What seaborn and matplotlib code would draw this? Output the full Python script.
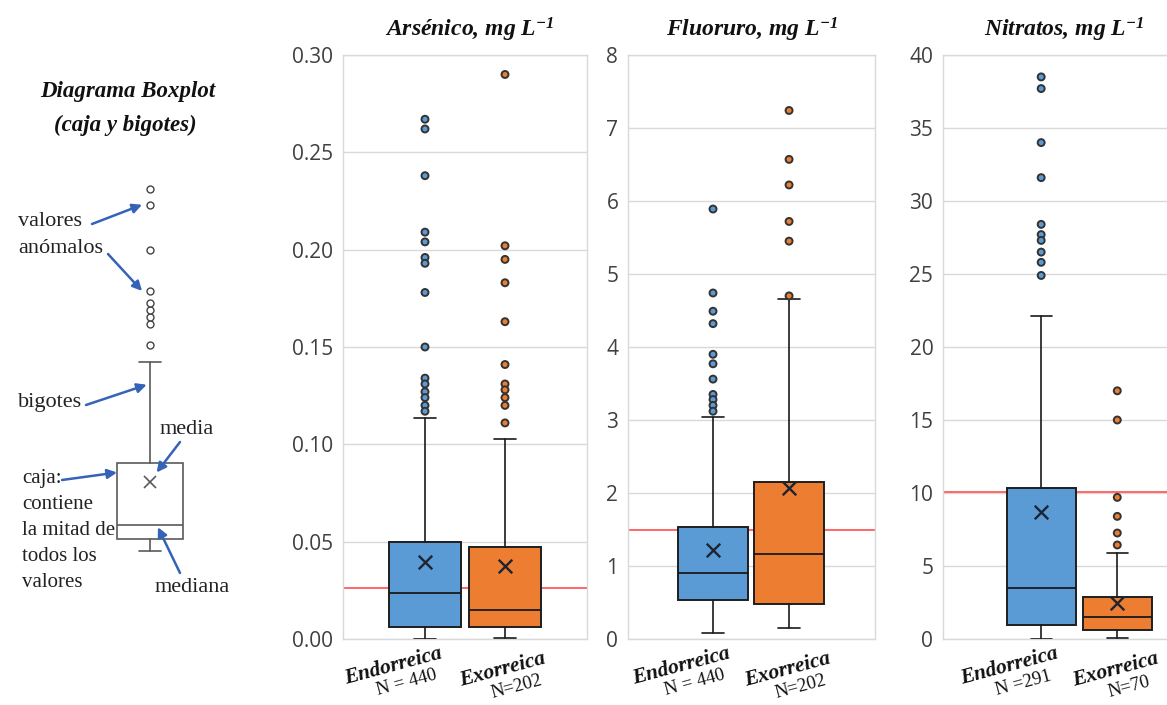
import numpy as np
import pandas as pd
import seaborn as sns
import matplotlib.pyplot as plt
from matplotlib import transforms

sns.set_theme(style="white")
plt.rcParams["font.family"] = ["Liberation Serif", "DejaVu Serif"]
plt.rcParams["mathtext.fontset"] = "custom"
plt.rcParams["mathtext.rm"] = "Liberation Serif:bold:italic"
plt.rcParams["mathtext.it"] = "Liberation Serif:bold:italic"

W, H = 1167, 705

# ---- datos ----
grupos = ["Endorreica", "Exorreica"]
colores = ["#5b9bd5", "#ed7d31"]

# Arsenico, mg/L
as_n = [440, 202]
as_q1 = [0.0062, 0.0062]
as_med = [0.0236, 0.0150]
as_q3 = [0.0497, 0.0472]
as_media = [0.0396, 0.0374]
as_bigote_inf = [0.0, 0.0005]
as_bigote_sup = [0.1135, 0.1025]
as_anom_endo = [0.267, 0.262, 0.238, 0.209, 0.204, 0.196, 0.193, 0.178, 0.150,
                0.134, 0.131, 0.127, 0.124, 0.120, 0.117]
as_anom_exo = [0.290, 0.202, 0.195, 0.183, 0.163, 0.141, 0.131, 0.128, 0.124,
               0.120, 0.111]
as_limite = 0.026

# Fluoruro, mg/L
f_n = [440, 202]
f_q1 = [0.53, 0.48]
f_med = [0.91, 1.16]
f_q3 = [1.53, 2.15]
f_media = [1.22, 2.07]
f_bigote_inf = [0.08, 0.15]
f_bigote_sup = [3.04, 4.66]
f_anom_endo = [5.89, 4.74, 4.49, 4.32, 3.90, 3.77, 3.56, 3.35, 3.28, 3.20, 3.12]
f_anom_exo = [7.24, 6.57, 6.22, 5.72, 5.45, 4.70]
f_limite = 1.49

# Nitratos, mg/L
ni_n = [291, 70]
ni_q1 = [0.99, 0.62]
ni_med = [3.5, 1.49]
ni_q3 = [10.37, 2.89]
ni_media = [8.68, 2.47]
ni_bigote_inf = [0.0, 0.05]
ni_bigote_sup = [22.1, 5.91]
ni_anom_endo = [38.5, 37.7, 34.0, 31.6, 28.4, 27.7, 27.3, 26.5, 25.8, 24.9]
ni_anom_exo = [17.0, 15.0, 9.7, 8.4, 7.26, 6.44]
ni_limite = 10.05

# esquema (unidades arbitrarias)
esq_q1, esq_med, esq_q3, esq_media = 0.81, 1.0, 1.83, 1.57
esq_bigotes = [0.65, 3.17]
esq_anom = [3.40, 3.68, 3.77, 3.87, 3.96, 4.12, 4.67, 5.27, 5.48]

fig = plt.figure(figsize=(W / 100, H / 100), dpi=100)


def fp(x, y):
    return (x, H - y)


def rect(x0, y0, x1, y1):
    return [x0 / W, 1 - y1 / H, (x1 - x0) / W, (y1 - y0) / H]


def panel(r, titulo, tx, n_etiq, q1, med, q3, media, blo, bhi, a_endo, a_exo,
          limite, ymax, paso, fmt, xlim):
    ax = fig.add_axes(rect(*r))
    stats = []
    for i in range(2):
        stats.append(dict(med=med[i], q1=q1[i], q3=q3[i], whislo=blo[i],
                          whishi=bhi[i], mean=media[i], fliers=[]))
    bp = ax.bxp(stats, positions=[0, 1], widths=0.91, patch_artist=True,
                showfliers=False, capwidths=0.28, zorder=3,
                boxprops=dict(edgecolor="#1e1e1e", linewidth=1.4),
                medianprops=dict(color="#1a1a1a", linewidth=1.3),
                whiskerprops=dict(color="#1a1a1a", linewidth=1.2),
                capprops=dict(color="#1a1a1a", linewidth=1.2))
    for caja, c in zip(bp["boxes"], colores):
        caja.set_facecolor(c)

    df = pd.DataFrame({"grupo": [grupos[0]] * len(a_endo) + [grupos[1]] * len(a_exo),
                       "valor": a_endo + a_exo})
    sns.stripplot(data=df, x="grupo", y="valor", hue="grupo", order=grupos,
                  hue_order=grupos, palette=colores, jitter=False, size=5,
                  linewidth=1.4, edgecolor="#333333", legend=False, ax=ax, zorder=5)
    sns.scatterplot(x=[0, 1], y=media, marker="x", s=95, color="#1c2433",
                    linewidth=1.7, ax=ax, zorder=6, legend=False)

    ax.axhline(limite, color="#ff5a5a", lw=1.3, zorder=2)
    ax.set_xlim(*xlim)
    ax.set_ylim(0, ymax)
    ax.set_yticks(np.arange(0, ymax + paso / 2, paso))
    ax.yaxis.set_major_formatter(plt.FuncFormatter(lambda v, p: fmt.format(v)))
    ax.set_xticks([])
    ax.set_xlabel("")
    ax.set_ylabel("")
    ax.set_axisbelow(True)
    ax.yaxis.grid(True, color="#d9d9d9", lw=1.0)
    for s in ax.spines.values():
        s.set_color("#d9d9d9")
        s.set_linewidth(1.0)
    ax.tick_params(axis="y", length=0, pad=7, labelsize=15, labelcolor="#404040")
    for lab in ax.get_yticklabels():
        lab.set_fontfamily("Open Sans")

    fig.text(tx / W, 1 - 30 / H, titulo, ha="center", va="center", fontsize=17,
             fontweight="bold", fontstyle="italic", color="#111111")

    tr = transforms.blended_transform_factory(ax.transData, ax.transAxes)
    for i, (dx, dy) in enumerate([(-32, -27), (-2, -31)]):
        ax.annotate(grupos[i], xy=(i, 0), xycoords=tr, xytext=(dx, dy),
                    textcoords="offset pixels", ha="center", va="center",
                    rotation=15, fontsize=15.5, fontweight="bold",
                    fontstyle="italic", color="#111111", annotation_clip=False)
        ax.annotate(n_etiq[i], xy=(i, 0), xycoords=tr, xytext=(dx + 14, dy - 17),
                    textcoords="offset pixels", ha="center", va="center",
                    rotation=15, fontsize=13.5, color="#111111",
                    annotation_clip=False)
    return ax


panel((343, 55, 587, 639), r"Arsénico, mg L$^{-1}$", 469,
      [f"N = {as_n[0]}", f"N={as_n[1]}"], as_q1, as_med, as_q3, as_media,
      as_bigote_inf, as_bigote_sup, as_anom_endo, as_anom_exo, as_limite,
      0.30, 0.05, "{:.2f}", (-1.025, 2.025))
panel((628, 55, 875, 639), r"Fluoruro, mg L$^{-1}$", 752,
      [f"N = {f_n[0]}", f"N={f_n[1]}"], f_q1, f_med, f_q3, f_media,
      f_bigote_inf, f_bigote_sup, f_anom_endo, f_anom_exo, f_limite,
      8, 1, "{:.0f}", (-1.118, 2.13))
panel((943, 55, 1185, 639), r"Nitratos, mg L$^{-1}$", 1064,
      [f"N ={ni_n[0]}", f"N={ni_n[1]}"], ni_q1, ni_med, ni_q3, ni_media,
      ni_bigote_inf, ni_bigote_sup, ni_anom_endo, ni_anom_exo, ni_limite,
      40, 5, "{:.0f}", (-1.29, 1.89))

# ---- esquema explicativo ----
ax0 = fig.add_axes([0, 0, 260 / W, 1])
ax0.axis("off")
ax0.set_xlim(-150 / 66, 110 / 66)
ax0.set_ylim(-1.4, 8.0)
gris = "#5a5a5a"
ax0.bxp([dict(med=esq_med, q1=esq_q1, q3=esq_q3, whislo=esq_bigotes[0],
              whishi=esq_bigotes[1], mean=esq_media, fliers=esq_anom)],
        positions=[0], widths=1.0, patch_artist=True, showmeans=True,
        capwidths=0.32,
        boxprops=dict(facecolor="white", edgecolor=gris, linewidth=1.2),
        medianprops=dict(color=gris, linewidth=1.2),
        whiskerprops=dict(color=gris, linewidth=1.2),
        capprops=dict(color=gris, linewidth=1.2),
        flierprops=dict(marker="o", markerfacecolor="white",
                        markeredgecolor="#444444", markersize=5),
        meanprops=dict(marker="x", markeredgecolor=gris, markersize=9,
                       markeredgewidth=1.2))

fig.text(128 / W, 1 - 92 / H, "Diagrama Boxplot", ha="center", va="center",
         fontsize=16.5, fontweight="bold", fontstyle="italic", color="#111111")
fig.text(125 / W, 1 - 125 / H, "(caja y bigotes)", ha="center", va="center",
         fontsize=16.5, fontweight="bold", fontstyle="italic", color="#111111")

txt = dict(fontsize=16, color="#222222", va="center", ha="left")
fig.text(18 / W, 1 - 222 / H, "valores", **txt)
fig.text(18 / W, 1 - 248 / H, "anómalos", **txt)
fig.text(18 / W, 1 - 402 / H, "bigotes", **txt)
fig.text(160 / W, 1 - 430 / H, "media", **txt)
fig.text(22 / W, 1 - 469 / H, "caja:\ncontiene\nla mitad de\ntodos los\nvalores",
         fontsize=15, color="#222222", va="top", ha="left", linespacing=1.5)
fig.text(155 / W, 1 - 587 / H, "mediana", **txt)

azul = "#3563b8"
flecha = dict(arrowstyle="-|>", color=azul, lw=1.8, mutation_scale=14,
              shrinkA=0, shrinkB=0)
for tip, tail in [((-0.12, esq_anom[7]), (92, 224)),
                  ((-0.12, esq_anom[5]), (108, 254)),
                  ((-0.05, 2.87), (86, 405)),
                  ((0.1, 1.7), (180, 442)),
                  ((-0.5, 1.7), (62, 480)),
                  ((0.12, 0.97), (180, 573))]:
    ax0.annotate("", xy=tip, xycoords="data", xytext=fp(*tail),
                 textcoords="figure pixels", arrowprops=flecha)

fig.savefig("out.png", dpi=100)
